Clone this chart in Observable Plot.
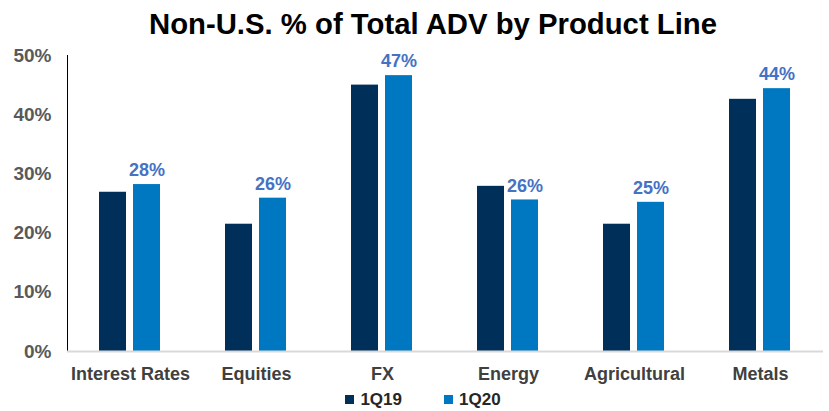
<!DOCTYPE html>
<html>
<head>
<meta charset="utf-8">
<script src="https://cdn.jsdelivr.net/npm/d3@7"></script>
<script src="https://cdn.jsdelivr.net/npm/@observablehq/plot@0.6"></script>
<style>
  html, body { margin: 0; padding: 0; background: #fff; }
  body { width: 829px; height: 411px; overflow: hidden; font-family: "Liberation Sans", Arial, sans-serif; }
  #title { height: 45px; line-height: 48px; text-align: center; font-weight: bold; font-size: 29.3px; color: #000; padding-left: 37px; box-sizing: border-box; }
  #legend { display: flex; justify-content: center; align-items: center; height: 23px; padding-left: 17px; font-weight: bold; font-size: 17px; color: #262626; }
  .item { display: flex; align-items: center; margin: 0 21px; }
  .sw { width: 9px; height: 9px; margin-right: 6px; }
  svg [aria-label^="y-axis"] text { fill: #595959; font-weight: bold; font-size: 19px; }
  svg [aria-label^="y-axis"] path, svg [aria-label^="y-axis"] line { stroke: #bfbfbf; }
  svg [aria-label^="fx-axis"] text { fill: #404040; font-weight: bold; }
</style>
</head>
<body>
<div id="title">Non-U.S. % of Total ADV by Product Line</div>
<div id="chart"></div>
<div id="legend"></div>
<script>
const categories = ["Interest Rates", "Equities", "FX", "Energy", "Agricultural", "Metals"];
const series = ["1Q19", "1Q20"];
const values1Q19 = [26.9, 21.5, 45.0, 27.9, 21.5, 42.6];
const values1Q20 = [28.2, 25.9, 46.6, 25.6, 25.2, 44.4];
const labels1Q20 = ["28%", "26%", "47%", "26%", "25%", "44%"];
const yTicks = [0, 10, 20, 30, 40, 50];
const colors = ["#00305A", "#0078C1"];

const data = [];
categories.forEach((c, i) => {
  data.push({category: c, series: series[0], value: values1Q19[i], label: null});
  data.push({category: c, series: series[1], value: values1Q20[i], label: labels1Q20[i]});
});

const chart = Plot.plot({
  width: 829,
  height: 343,
  marginTop: 10,
  marginBottom: 37,
  marginLeft: 65,
  marginRight: 4,
  style: {fontFamily: "'Liberation Sans', Arial, sans-serif", fontSize: "18px", fontWeight: "bold", background: "#fff", overflow: "visible"},
  facet: {data, x: "category"},
  fx: {domain: categories, padding: 0, label: null, tickSize: 0, tickPadding: 16},
  x: {domain: series, paddingInner: 0.2, paddingOuter: 0.91, axis: null},
  y: {domain: [0, 50], ticks: yTicks, tickFormat: d => d + "%", tickSize: 0, tickPadding: 16, label: null, line: true},
  color: {domain: series, range: colors},
  marks: [
    Plot.barY(data, {x: "series", y: "value", fill: "series"}),
    Plot.ruleY([0], {stroke: "#d9d9d9", strokeWidth: 2}),
    Plot.text(data, {filter: d => d.label != null, x: "series", y: "value", text: "label", dy: -14, fill: "#4472C4", fontSize: 18, fontWeight: "bold"})
  ]
});
document.getElementById("chart").appendChild(chart);

const legend = document.getElementById("legend");
series.forEach((s, i) => {
  const item = document.createElement("div");
  item.className = "item";
  const sw = document.createElement("div");
  sw.className = "sw";
  sw.style.background = colors[i];
  const t = document.createElement("span");
  t.textContent = s;
  item.appendChild(sw);
  item.appendChild(t);
  legend.appendChild(item);
});
</script>
</body>
</html>
